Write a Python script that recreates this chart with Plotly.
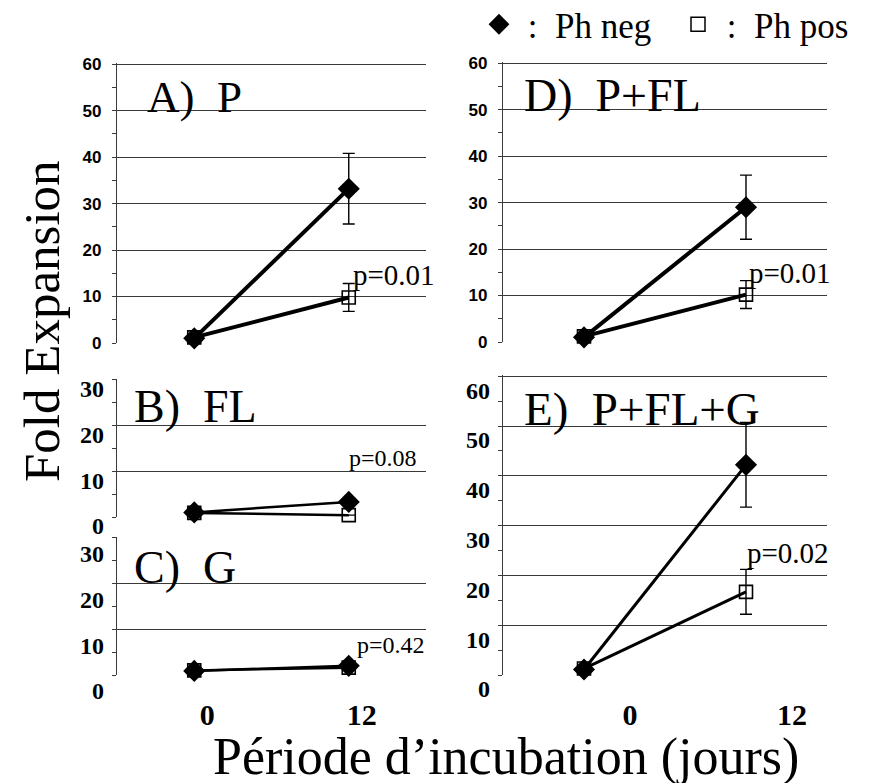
import plotly.graph_objects as go

# ---------------- data ----------------
times = [0, 12]
panel_titles = ["A)\u00a0\u00a0P", "B)\u00a0\u00a0FL", "C)\u00a0\u00a0G", "D)\u00a0\u00a0P+FL", "E)\u00a0\u00a0P+FL+G"]
p_values = ["p=0.01", "p=0.08", "p=0.42", "p=0.01", "p=0.02"]

ph_neg_A = [1.0, 33.2]
ph_neg_A_err = [0, 7.6]
ph_pos_A = [1.2, 9.8]
ph_pos_A_err = [0, 3.0]

ph_neg_B = [1.0, 3.3]
ph_neg_B_err = [0, 0]
ph_pos_B = [0.9, 0.4]
ph_pos_B_err = [0, 0]

ph_neg_C = [0.9, 2.0]
ph_neg_C_err = [0, 0]
ph_pos_C = [1.0, 1.6]
ph_pos_C_err = [0, 0]

ph_neg_D = [1.0, 29.0]
ph_neg_D_err = [0, 6.9]
ph_pos_D = [1.2, 10.2]
ph_pos_D_err = [0, 3.0]

ph_neg_E = [1.1, 42.2]
ph_neg_E_err = [0, 8.5]
ph_pos_E = [1.3, 16.7]
ph_pos_E_err = [0, 4.5]

y_max = [60, 30, 30, 60, 60]
time_tick_labels = ["0", "12"]

# ---------------- layout helpers ----------------
W, H = 869, 783
SERIF = "Liberation Serif"
SANS = "Liberation Sans"

def px_x(a, b):
    return [a / W, b / W]

def px_y(top, bottom):
    return [1 - bottom / H, 1 - top / H]

left_x = px_x(117, 426)
right_x = px_x(503, 827)
sans_ticks = dict(family=SANS, size=17, color="black", weight="bold")
serif_ticks = dict(family=SERIF, size=24, color="black", weight="bold")
panels = [
    dict(x=left_x, y=px_y(63, 343), neg=ph_neg_A, nerr=ph_neg_A_err, pos=ph_pos_A, perr=ph_pos_A_err,
         lw=4, tick_font=sans_ticks, tshift=0, tstand=7, xlabels=False,
         pv=(12.2, 14.6, 29), title_pos=(0.09, 0.88), title_size=45),
    dict(x=left_x, y=px_y(379, 517), neg=ph_neg_B, nerr=ph_neg_B_err, pos=ph_pos_B, perr=ph_pos_B_err,
         lw=2.5, tick_font=serif_ticks, tshift=9, tstand=3,
         xlabels=False, pv=(11.9, 12.8, 24), title_pos=(0.05, 0.80), title_size=46),
    dict(x=left_x, y=px_y(537, 675), neg=ph_neg_C, nerr=ph_neg_C_err, pos=ph_pos_C, perr=ph_pos_C_err,
         lw=2.5, tick_font=serif_ticks, tshift=16, tstand=3,
         xlabels=True, xshift=13, pv=(12.5, 6.5, 24), title_pos=(0.05, 0.78), title_size=46),
    dict(x=right_x, y=px_y(62, 342), neg=ph_neg_D, nerr=ph_neg_D_err, pos=ph_pos_D, perr=ph_pos_D_err,
         lw=4, tick_font=sans_ticks, tshift=0, tstand=7, xlabels=False,
         pv=(12.1, 14.8, 29), title_pos=(0.059, 0.88), title_size=46),
    dict(x=right_x, y=px_y(375, 675), neg=ph_neg_E, nerr=ph_neg_E_err, pos=ph_pos_E, perr=ph_pos_E_err,
         lw=3, tick_font=serif_ticks, tshift=14, tstand=3,
         xlabels=True, xshift=46, pv=(11.9, 24.4, 29), title_pos=(0.06, 0.887), title_size=47),
]

fig = go.Figure()
annotations = []

for i, p in enumerate(panels):
    n = i + 1
    xa = "x" if n == 1 else f"x{n}"
    ya = "y" if n == 1 else f"y{n}"
    # Ph pos (open squares) first, Ph neg on top
    fig.add_trace(go.Scatter(
        x=times, y=p["pos"], xaxis=xa, yaxis=ya, mode="lines+markers", showlegend=False,
        line=dict(color="black", width=p["lw"]),
        marker=dict(symbol="square-open", size=13, color="black", line=dict(width=1.6)),
        error_y=dict(type="data", array=p["perr"], visible=True, color="black", thickness=1.4, width=6),
        cliponaxis=False,
    ))
    fig.add_trace(go.Scatter(
        x=times, y=p["neg"], xaxis=xa, yaxis=ya, mode="lines+markers", showlegend=False,
        line=dict(color="black", width=p["lw"]),
        marker=dict(symbol="diamond", size=17, color="black"),
        error_y=dict(type="data", array=p["nerr"], visible=True, color="black", thickness=1.4, width=6),
        cliponaxis=False,
    ))
    xkey = "xaxis" if n == 1 else f"xaxis{n}"
    ykey = "yaxis" if n == 1 else f"yaxis{n}"
    xcfg = dict(domain=p["x"], range=[-6, 18], anchor=ya, showgrid=False, zeroline=False,
                showline=False, ticks="", fixedrange=True)
    if p["xlabels"]:
        xcfg.update(tickmode="array", tickvals=times, ticktext=time_tick_labels, showticklabels=True,
                    tickfont=dict(family=SERIF, size=30, color="black", weight="bold"),
                    ticklabelshift=p["xshift"], ticklabelstandoff=19)
    else:
        xcfg.update(showticklabels=False)
    fig.layout[xkey] = xcfg
    # small headroom so the top gridline is drawn
    fig.layout[ykey] = dict(
        domain=p["y"], range=[0, y_max[i] * 1.004], anchor=xa, dtick=10, tick0=0,
        showgrid=True, gridcolor="#3a3a3a", gridwidth=1.2, zeroline=False,
        showline=True, linecolor="#3a3a3a", linewidth=1.2,
        ticks="outside", ticklen=4, tickcolor="#3a3a3a", tickwidth=1,
        minor=dict(dtick=5, tick0=0, ticks="outside", ticklen=4, tickcolor="#3a3a3a", showgrid=False),
        tickfont=p["tick_font"], ticklabelshift=p["tshift"], ticklabelstandoff=p["tstand"],
        fixedrange=True,
    )
    # panel title
    annotations.append(dict(
        text=panel_titles[i], xref=f"{xa} domain", yref=f"{ya} domain",
        x=p["title_pos"][0], y=p["title_pos"][1], xanchor="left", yanchor="middle",
        showarrow=False, font=dict(family=SERIF, size=p["title_size"], color="black"),
    ))
    # p-value
    annotations.append(dict(
        text=p_values[i], xref=xa, yref=ya, x=p["pv"][0], y=p["pv"][1],
        xanchor="left", yanchor="middle", showarrow=False,
        font=dict(family=SERIF, size=p["pv"][2], color="black"),
    ))

# legend entries
fig.add_trace(go.Scatter(x=[None], y=[None], mode="markers", name="\u00a0:\u00a0\u00a0Ph neg",
                         marker=dict(symbol="diamond", size=16, color="black"), showlegend=True))
fig.add_trace(go.Scatter(x=[None], y=[None], mode="markers", name="\u00a0:\u00a0\u00a0Ph pos",
                         marker=dict(symbol="square-open", size=14, color="black", line=dict(width=1.5)),
                         showlegend=True))

# shared axis titles
annotations.append(dict(
    text="Fold Expansion", xref="paper", yref="paper", x=42 / W, y=1 - 321 / H,
    xanchor="center", yanchor="middle", textangle=-90, showarrow=False,
    font=dict(family=SERIF, size=51, color="black"),
))
annotations.append(dict(
    text="Période d\u2019incubation (jours)", xref="paper", yref="paper", x=506 / W, y=1 - 757 / H,
    xanchor="center", yanchor="middle", showarrow=False,
    font=dict(family=SERIF, size=52, color="black"),
))

fig.update_layout(
    width=W, height=H, margin=dict(l=0, r=0, t=0, b=0, autoexpand=False),
    paper_bgcolor="white", plot_bgcolor="white",
    annotations=annotations,
    legend=dict(orientation="h", x=479 / W, y=1 + 5 / H, xanchor="left", yanchor="top",
                font=dict(family=SERIF, size=35, color="black"), bgcolor="rgba(0,0,0,0)",
                itemsizing="trace", tracegroupgap=0, itemwidth=30,
                entrywidth=154, entrywidthmode="pixels"),
)

fig.write_html("out.html")
